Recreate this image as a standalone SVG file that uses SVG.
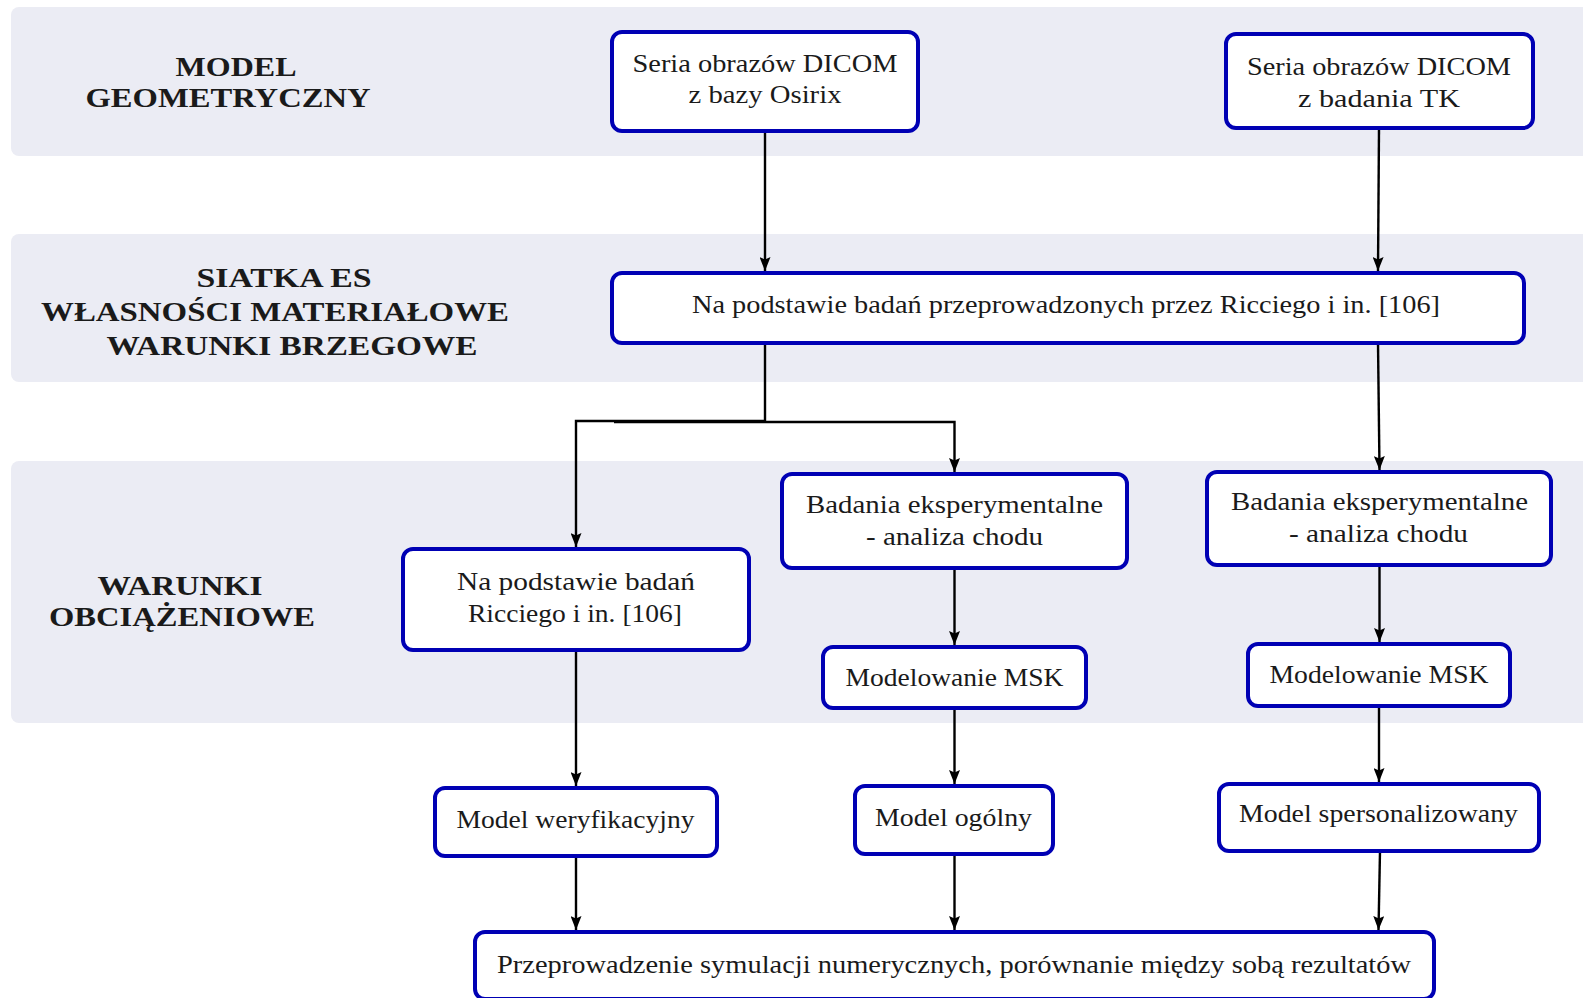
<svg xmlns="http://www.w3.org/2000/svg" width="1583" height="998" viewBox="0 0 1583 998">
<defs>
<style>
.band{fill:#ebecf4}
.box{fill:#fff;stroke:#0000b4;stroke-width:4}
.t{font-family:"Liberation Serif","DejaVu Serif",serif;font-size:25px;fill:#1a1a1a;text-anchor:middle}
.h{font-family:"Liberation Serif","DejaVu Serif",serif;font-size:28px;font-weight:bold;fill:#1a1a1a;text-anchor:middle}
.c{fill:none;stroke:#000;stroke-width:2.4;marker-end:url(#ah)}
</style>
<marker id="ah" markerUnits="userSpaceOnUse" markerWidth="15" markerHeight="11" refX="14" refY="5.5" orient="auto">
<path d="M0,0 L14,5.5 L0,11 L2.5,5.5 z" fill="#000"/>
</marker>
</defs>
<g id="bands">
<rect class="band" x="11" y="7" width="1600" height="149" rx="8"/>
<rect class="band" x="11" y="234" width="1600" height="148" rx="8"/>
<rect class="band" x="11" y="461" width="1600" height="262" rx="8"/>
<text class="h" x="236" y="76" textLength="121" lengthAdjust="spacingAndGlyphs">MODEL</text>
<text class="h" x="228" y="107" textLength="285" lengthAdjust="spacingAndGlyphs">GEOMETRYCZNY</text>
<text class="h" x="284" y="287" textLength="175" lengthAdjust="spacingAndGlyphs">SIATKA ES</text>
<text class="h" x="275" y="321" textLength="468" lengthAdjust="spacingAndGlyphs">WŁASNOŚCI MATERIAŁOWE</text>
<text class="h" x="292" y="355" textLength="371" lengthAdjust="spacingAndGlyphs">WARUNKI BRZEGOWE</text>
<text class="h" x="180" y="595" textLength="165" lengthAdjust="spacingAndGlyphs">WARUNKI</text>
<text class="h" x="182" y="626" textLength="266" lengthAdjust="spacingAndGlyphs">OBCIĄŻENIOWE</text>
</g>
<g id="connectors">
<path class="c" d="M765,131 V271"/>
<path class="c" d="M1379,128 L1378,271"/>
<path class="c" d="M765,343 V421 H576 V547"/>
<path class="c" d="M614,422 H954.5 V472"/>
<path class="c" d="M1378,343 L1379.5,470"/>
<path class="c" d="M576,650 V786"/>
<path class="c" d="M954.5,568 V645"/>
<path class="c" d="M1379.5,565 V642"/>
<path class="c" d="M954.5,708 V784"/>
<path class="c" d="M1379,706 V782"/>
<path class="c" d="M576,856 V930"/>
<path class="c" d="M954.5,854 V930"/>
<path class="c" d="M1380,851 L1378.5,930"/>
</g>
<g id="n1"><rect class="box" x="612" y="32" width="306" height="99" rx="10"/>
<text class="t" x="765" y="72" textLength="265" lengthAdjust="spacingAndGlyphs">Seria obrazów DICOM</text>
<text class="t" x="765" y="103" textLength="153" lengthAdjust="spacingAndGlyphs">z bazy Osirix</text></g>
<g id="n2"><rect class="box" x="1226" y="34" width="307" height="94" rx="10"/>
<text class="t" x="1379" y="75" textLength="264" lengthAdjust="spacingAndGlyphs">Seria obrazów DICOM</text>
<text class="t" x="1379" y="107" textLength="162" lengthAdjust="spacingAndGlyphs">z badania TK</text></g>
<g id="n3"><rect class="box" x="612" y="273" width="912" height="70" rx="10"/>
<text class="t" x="1066" y="313" textLength="748" lengthAdjust="spacingAndGlyphs">Na podstawie badań przeprowadzonych przez Ricciego i in. [106]</text></g>
<g id="n4"><rect class="box" x="403" y="549" width="346" height="101" rx="10"/>
<text class="t" x="576" y="590" textLength="238" lengthAdjust="spacingAndGlyphs">Na podstawie badań</text>
<text class="t" x="575" y="622" textLength="214" lengthAdjust="spacingAndGlyphs">Ricciego i in. [106]</text></g>
<g id="n5"><rect class="box" x="782" y="474" width="345" height="94" rx="10"/>
<text class="t" x="954.5" y="513" textLength="297" lengthAdjust="spacingAndGlyphs">Badania eksperymentalne</text>
<text class="t" x="954.5" y="545" textLength="177" lengthAdjust="spacingAndGlyphs">- analiza chodu</text></g>
<g id="n6"><rect class="box" x="1207" y="472" width="344" height="93" rx="10"/>
<text class="t" x="1379.5" y="510" textLength="297" lengthAdjust="spacingAndGlyphs">Badania eksperymentalne</text>
<text class="t" x="1378.5" y="542" textLength="179" lengthAdjust="spacingAndGlyphs">- analiza chodu</text></g>
<g id="n7"><rect class="box" x="823" y="647" width="263" height="61" rx="10"/>
<text class="t" x="954.5" y="686" textLength="218" lengthAdjust="spacingAndGlyphs">Modelowanie MSK</text></g>
<g id="n8"><rect class="box" x="1248" y="644" width="262" height="62" rx="10"/>
<text class="t" x="1379" y="683" textLength="219" lengthAdjust="spacingAndGlyphs">Modelowanie MSK</text></g>
<g id="n9"><rect class="box" x="435" y="788" width="282" height="68" rx="10"/>
<text class="t" x="575.5" y="828" textLength="238" lengthAdjust="spacingAndGlyphs">Model weryfikacyjny</text></g>
<g id="n10"><rect class="box" x="855" y="786" width="198" height="68" rx="10"/>
<text class="t" x="953.5" y="826" textLength="157" lengthAdjust="spacingAndGlyphs">Model ogólny</text></g>
<g id="n11"><rect class="box" x="1219" y="784" width="320" height="67" rx="10"/>
<text class="t" x="1378.5" y="822" textLength="279" lengthAdjust="spacingAndGlyphs">Model spersonalizowany</text></g>
<g id="n12"><rect class="box" x="475" y="932" width="959" height="67" rx="10"/>
<text class="t" x="954" y="973" textLength="914" lengthAdjust="spacingAndGlyphs">Przeprowadzenie symulacji numerycznych, porównanie między sobą rezultatów</text></g>
</svg>
